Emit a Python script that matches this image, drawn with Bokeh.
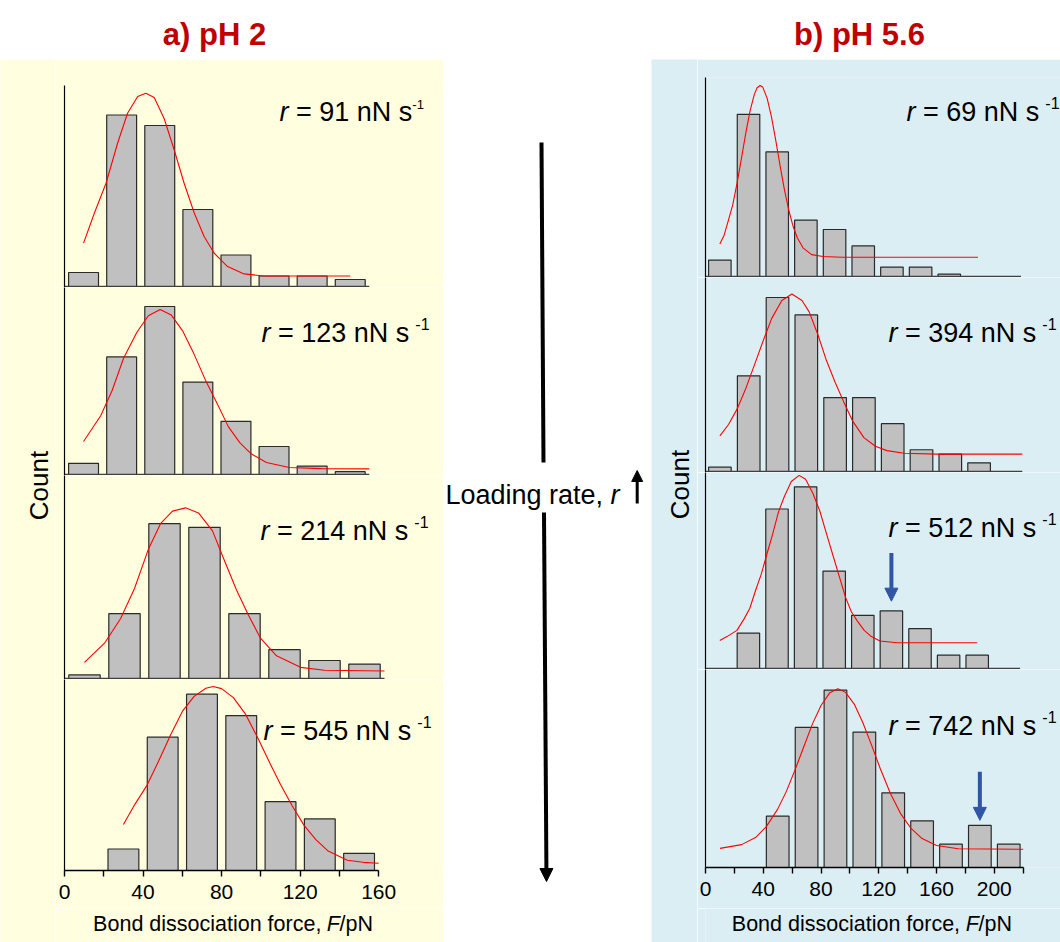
import math
from bokeh.plotting import figure
from bokeh.layouts import column, row
from bokeh.models import Range1d, Label, Arrow, NormalHead, FixedTicker
from bokeh.embed import file_html
from bokeh.resources import INLINE

FONT = "Liberation Sans"
YELLOW = "#FFFFE0"
BLUE = "#DBEEF4"
DARKRED = "#C00000"
ARROWBLUE = "#2F55A4"
BARFILL = "#C0C0C0"
BARLINE = "#2A2A2A"

# ------------------------------------------------------------------ data
titles = ["a) pH 2", "b) pH 5.6"]
rates_a = [91, 123, 214, 545]
rates_b = [69, 394, 512, 742]
x_title = "Bond dissociation force, "
x_title_italic = "F"
x_title_unit = "/pN"
y_title = "Count"
mid_text = "Loading rate, "
mid_text_italic = "r"

ticks_a = [0, 40, 80, 120, 160]
minor_a = [20, 60, 100, 140]
ticks_b = [0, 40, 80, 120, 160, 200]
minor_b = [20, 60, 100, 140, 180, 220]

# pH 2
a1_bins = [10, 30, 50, 70, 90, 110, 130, 150]
a1_counts = [4, 49, 46, 22, 9, 3, 3, 2]
a1_fit_x = [10, 15.7, 21.8, 27.9, 33.1, 38.4, 42.7, 47.1, 52.3, 57.6, 62.8, 68.1, 73.3, 78.6, 85.6, 94.3, 104.8, 150]
a1_fit_y = [12.4, 21, 29.5, 41, 49.5, 54.3, 55.2, 54, 48, 39, 29.5, 21, 14.3, 9.5, 5.7, 3.6, 3, 3]

a2_bins = [10, 30, 50, 70, 90, 110, 130, 150]
a2_counts = [4, 42, 60, 33, 19, 10, 3, 1]
a2_fit_x = [10, 19, 25, 31, 38, 44, 50.2, 56, 62, 68, 74, 80, 86, 92, 98, 106, 118, 135, 160]
a2_fit_y = [11.8, 21, 30, 41.5, 50.8, 56.7, 58.9, 57, 51.3, 43, 33.7, 25.5, 17.1, 11.4, 7.4, 4.3, 2.5, 2.1, 2]

a3_bins = [10, 30, 50, 70, 90, 110, 130, 150]
a3_counts = [1, 18, 43, 42, 18, 8, 5, 4]
a3_fit_x = [10, 20, 28, 35, 42, 48, 54, 60.5, 67, 74, 80, 86, 92, 98, 106, 118, 130, 160]
a3_fit_y = [4.5, 9.8, 16.6, 25, 36, 43, 46.5, 47.4, 46, 41, 32.7, 24.6, 17.6, 11.2, 6.3, 3.1, 2.3, 2.1]

a4_bins = [30, 50, 70, 90, 110, 130, 150]
a4_counts = [5, 31, 41, 36, 16, 12, 4]
a4_fit_x = [30, 36, 42, 48, 54, 60, 66, 72, 75.7, 80, 86, 92, 98, 104, 110, 116, 122, 128, 134, 144, 152, 160]
a4_fit_y = [10.7, 15.5, 19.8, 25.5, 31.5, 37, 40.5, 42.4, 42.8, 42.3, 40.2, 36.5, 31.2, 25.5, 20, 15, 10.5, 7.2, 4.6, 2.4, 1.9, 1.7]

# pH 5.6
b1_bins = [10, 30, 50, 70, 90, 110, 130, 150, 170]
b1_counts = [7, 69, 53, 24, 20, 13, 4, 4, 1]
b1_fit_x = [10, 13, 16, 19, 22, 25, 28, 31, 34, 36, 38.1, 40, 43, 46, 49, 52, 55, 58, 61, 64, 68, 74, 82, 95, 190]
b1_fit_y = [13.8, 17.6, 24, 30.5, 39.7, 50, 60.7, 70.3, 77.4, 80.3, 81.3, 80.5, 75.8, 67.9, 57.9, 47.2, 37.1, 28.4, 21.5, 16.5, 12.2, 9.3, 8.5, 8.2, 8.2]

b2_bins = [10, 30, 50, 70, 90, 110, 130, 150, 170, 190]
b2_counts = [1, 22, 40, 36, 17, 17, 11, 5, 4, 2]
b2_fit_x = [10, 16, 22, 28, 34, 40, 46, 53, 60, 67, 72, 78, 84, 90, 96, 102, 110, 118, 126, 138, 160, 220]
b2_fit_y = [8.2, 10.8, 14.4, 19.1, 24.5, 30, 35.2, 39.3, 40.8, 39.3, 36.7, 31.5, 25.5, 20.5, 16, 11.7, 7.8, 5.8, 4.8, 4.2, 4.0, 4.0]

b3_bins = [30, 50, 70, 90, 110, 130, 150, 170, 190]
b3_counts = [8, 36, 41, 22, 12, 13, 9, 3, 3]
b3_fit_x = [10, 15, 22, 27, 31, 35, 39, 43, 47, 51, 55, 60, 65.5, 70, 75, 80, 85, 90, 94, 98, 102, 106, 111, 116, 122, 134, 190]
b3_fit_y = [6.3, 7.2, 8.6, 11.2, 13.6, 17.6, 21.3, 25.9, 30.4, 35.3, 38.7, 42.2, 43.6, 42.7, 39.6, 35.5, 30, 24.6, 20.3, 16, 12.8, 10.8, 8.6, 7.2, 6.2, 5.8, 5.8]

b4_bins = [50, 70, 90, 110, 130, 150, 170, 190, 210]
b4_counts = [11, 30, 38, 29, 16, 10, 5, 9, 5]
b4_fit_x = [10, 25, 35, 42, 50, 56, 62, 68, 74, 80, 86, 91.7, 97, 103, 109, 115, 121, 128, 135, 142, 150, 160, 175, 220]
b4_fit_y = [4.1, 4.9, 6.5, 8.7, 12.5, 16.3, 20.9, 25.8, 30.7, 34.7, 37.4, 38.3, 37.5, 35, 31, 26.2, 21.2, 15.9, 11.6, 8.5, 6.2, 4.7, 4.0, 3.9]

# blue arrows marking the second population (bin, arrow tail, arrow tip)
b3_arrow = [130, 26.1, 15.2]
b4_arrow = [190, 20.5, 10.1]

BAR_WIDTH = 15.7

# ------------------------------------------------------------------ helpers
AW = {' ': .278, '=': .584, 'n': .556, 'N': .722, 's': .5, 'B': .667, 'o': .556,
      'd': .556, 'i': .222, 'c': .5, 'a': .556, 't': .278, 'f': .278, 'r': .333,
      'e': .556, ',': .278, 'F': .611, '/': .278, 'p': .556, 'L': .556, 'g': .556}


def tw(s, size):
    return sum(AW.get(c, .556) for c in s) * size


def base_fig(w, h, xr, yr, left=0, right=0, top=0, bottom=0, bg="white", xaxis=None, yaxis=None):
    p = figure(width=w, height=h, x_range=xr, y_range=yr, output_backend="svg",
               toolbar_location=None, x_axis_location=xaxis, y_axis_location=yaxis,
               min_border=0, min_border_left=left, min_border_right=right,
               min_border_top=top, min_border_bottom=bottom,
               background_fill_color=bg, border_fill_color=bg, outline_line_color=None)
    p.grid.visible = False
    return p


def panel(col_w, h, top, bottom, left, scale, unit, axis_max, bins, counts, fx, fy, rate,
          lab, bg, bottom_axis=False, ticks=None, minor=None, tight=False, arrow=None):
    fw = col_w - left
    fh = h - top - bottom
    xr = Range1d(0, fw / scale)
    if bottom_axis:
        yr = Range1d(0, fh / unit)
    else:
        yr = Range1d(-1.0 / unit, (fh - 1) / unit)
    p = base_fig(col_w, h, xr, yr, left=left, right=0, top=top, bottom=bottom, bg=bg,
                 xaxis="below" if bottom_axis else None, yaxis="left")
    ya = p.yaxis[0]
    ya.ticker = FixedTicker(ticks=[])
    ya.major_tick_out = 0
    ya.major_tick_in = 0
    ya.minor_tick_out = 0
    ya.minor_tick_in = 0
    ya.major_label_standoff = 0
    ya.axis_line_color = "black"
    ya.axis_line_width = 1.2

    p.vbar(x=bins, top=counts, bottom=0, width=BAR_WIDTH, fill_color=BARFILL,
           line_color=BARLINE, line_width=1.2)
    p.line(fx, fy, line_color="#FF0000", line_width=1.1)

    if bottom_axis:
        xa = p.xaxis[0]
        xa.bounds = (0, axis_max)
        xa.ticker = FixedTicker(ticks=ticks, minor_ticks=minor)
        xa.axis_line_color = "black"
        xa.axis_line_width = 1.4
        xa.major_tick_line_color = "black"
        xa.minor_tick_line_color = "black"
        xa.major_tick_line_width = 1.4
        xa.minor_tick_line_width = 1.4
        xa.major_tick_out = 6
        xa.major_tick_in = 0
        xa.minor_tick_out = 6
        xa.minor_tick_in = 0
        xa.major_label_standoff = 8
        xa.major_label_text_font = FONT
        xa.major_label_text_font_size = "21px"
        xa.major_label_text_color = "black"
    else:
        p.segment(x0=[0], y0=[0], x1=[axis_max], y1=[0], line_color="#404040", line_width=1.5)

    # rate label  r = ... nN s^-1
    F = 27
    lx, ly = lab
    ytop = yr.end
    common = dict(text_font=FONT, text_color="black", text_baseline="alphabetic")
    p.add_layout(Label(x=0, y=ytop, x_offset=lx, y_offset=-ly, text="r",
                       text_font_style="italic", text_font_size=f"{F}px", **common))
    main = f"= {rate} nN s"
    xm = lx + tw("r ", F)
    p.add_layout(Label(x=0, y=ytop, x_offset=xm, y_offset=-ly, text=main,
                       text_font_size=f"{F}px", **common))
    xs = xm + tw(main, F) + (0 if tight else 6)
    ssize = 13 if tight else 16
    p.add_layout(Label(x=0, y=ytop, x_offset=xs, y_offset=-ly + (7.5 if tight else 8.5),
                       text="-1", text_font_size=f"{ssize}px", **common))

    if arrow is not None:
        p.add_layout(Arrow(x_start=arrow[0], y_start=arrow[1], x_end=arrow[0], y_end=arrow[2],
                           line_color=ARROWBLUE, line_width=4,
                           end=NormalHead(size=13, fill_color=ARROWBLUE, line_color=ARROWBLUE)))
    return p


def text_fig(w, h, bg):
    return base_fig(w, h, Range1d(0, w), Range1d(0, h), bg=bg)


def count_fig(w, h, bg, cx, cy):
    p = text_fig(w, h, bg)
    p.add_layout(Label(x=cx, y=cy, text=y_title, angle=math.pi / 2, text_align="center",
                       text_baseline="middle", text_font=FONT, text_font_size="26px",
                       text_color="black"))
    return p


def foot_fig(w, h, bg, x0, yb):
    p = text_fig(w, h, bg)
    S = 21.5
    common = dict(text_font=FONT, text_color="black", text_baseline="alphabetic",
                  text_font_size=f"{S}px")
    p.add_layout(Label(x=x0, y=yb, text=x_title.rstrip(), **common))
    xf = x0 + tw(x_title, S) + 5
    p.add_layout(Label(x=xf, y=yb, text=x_title_italic, text_font_style="italic", **common))
    p.add_layout(Label(x=xf + tw(x_title_italic, S), y=yb, text=x_title_unit, **common))
    return p


# ------------------------------------------------------------------ left block (pH 2)
COLH = 883
LCW = 55           # "Count" strip
LW = 443 - LCW     # panel column width
a1 = panel(LW, 228, 26, 0, 8, 1.91, 3.5, 160, a1_bins, a1_counts, a1_fit_x, a1_fit_y,
           rates_a[0], (215, 26), YELLOW, tight=True)
a2 = panel(LW, 188, 0, 0, 8, 1.91, 2.8, 160, a2_bins, a2_counts, a2_fit_x, a2_fit_y,
           rates_a[1], (197, 45), YELLOW)
a3 = panel(LW, 204, 0, 0, 9, 2.0, 3.6, 160, a3_bins, a3_counts, a3_fit_x, a3_fit_y,
           rates_a[2], (196, 55), YELLOW)
a4 = panel(LW, 229, 0, 38, 8, 1.969, 4.3, 160, a4_bins, a4_counts, a4_fit_x, a4_fit_y,
           rates_a[3], (199, 51), YELLOW, bottom_axis=True, ticks=ticks_a, minor=minor_a)
a_foot = foot_fig(LW, 34, YELLOW, 29.3, 19)
a_count = count_fig(LCW, COLH, YELLOW, 38, 942 - 485)
left_block = row(a_count, column(a1, a2, a3, a4, a_foot))

# ------------------------------------------------------------------ right block (pH 5.6)
RCW = 46
RW = 1060 - 651 - RCW
b1 = panel(RW, 218, 18, 0, 8, 1.434, 2.35, 220, b1_bins, b1_counts, b1_fit_x, b1_fit_y,
           rates_b[0], (201, 34), BLUE)
b2 = panel(RW, 195, 0, 0, 8, 1.44, 4.35, 220, b2_bins, b2_counts, b2_fit_x, b2_fit_y,
           rates_b[1], (183, 55), BLUE)
b3 = panel(RW, 197, 0, 0, 8, 1.43, 4.43, 220, b3_bins, b3_counts, b3_fit_x, b3_fit_y,
           rates_b[2], (183, 55), BLUE, arrow=b3_arrow)
b4 = panel(RW, 239, 0, 41, 8, 1.444, 4.67, 220, b4_bins, b4_counts, b4_fit_x, b4_fit_y,
           rates_b[3], (183, 56), BLUE, bottom_axis=True, ticks=ticks_b, minor=minor_b,
           arrow=b4_arrow)
b_foot = foot_fig(RW, 34, BLUE, 26.9, 19)
b_count = count_fig(RCW, COLH, BLUE, 28, 942 - 484)
right_block = row(b_count, column(b1, b2, b3, b4, b_foot))

# ------------------------------------------------------------------ middle (loading-rate arrow)
MW = 651 - 443
mid = text_fig(MW, COLH, "white")
mid.segment(x0=[98], y0=[800], x1=[100], y1=[480], line_color="black", line_width=4)
mid.add_layout(Arrow(x_start=100.5, y_start=430, x_end=103, y_end=61, line_color="black",
                     line_width=4, end=NormalHead(size=13, fill_color="black", line_color="black")))
mid.add_layout(Label(x=2, y=447.7, text=mid_text.rstrip(), text_font=FONT, text_font_size="27px",
                     text_color="black", text_baseline="alphabetic"))
mid.add_layout(Label(x=2 + tw(mid_text, 27), y=447.7, text=mid_text_italic, text_font=FONT,
                     text_font_style="italic", text_font_size="27px", text_color="black",
                     text_baseline="alphabetic"))
mid.add_layout(Arrow(x_start=193.7, y_start=439, x_end=193.7, y_end=472, line_color="black",
                     line_width=3, end=NormalHead(size=11, fill_color="black", line_color="black")))

# ------------------------------------------------------------------ titles
TW, TH = 1060, 59
top = text_fig(TW, TH, "white")
top.add_layout(Label(x=214, y=25, text=titles[0], text_align="center", text_baseline="alphabetic",
                     text_font=FONT, text_font_style="bold", text_font_size="31px",
                     text_color=DARKRED))
top.add_layout(Label(x=859, y=25, text=titles[1], text_align="center", text_baseline="alphabetic",
                     text_font=FONT, text_font_style="bold", text_font_size="31px",
                     text_color=DARKRED))

layout = column(top, row(left_block, mid, right_block))

open("out.html", "w").write(file_html(layout, INLINE))
